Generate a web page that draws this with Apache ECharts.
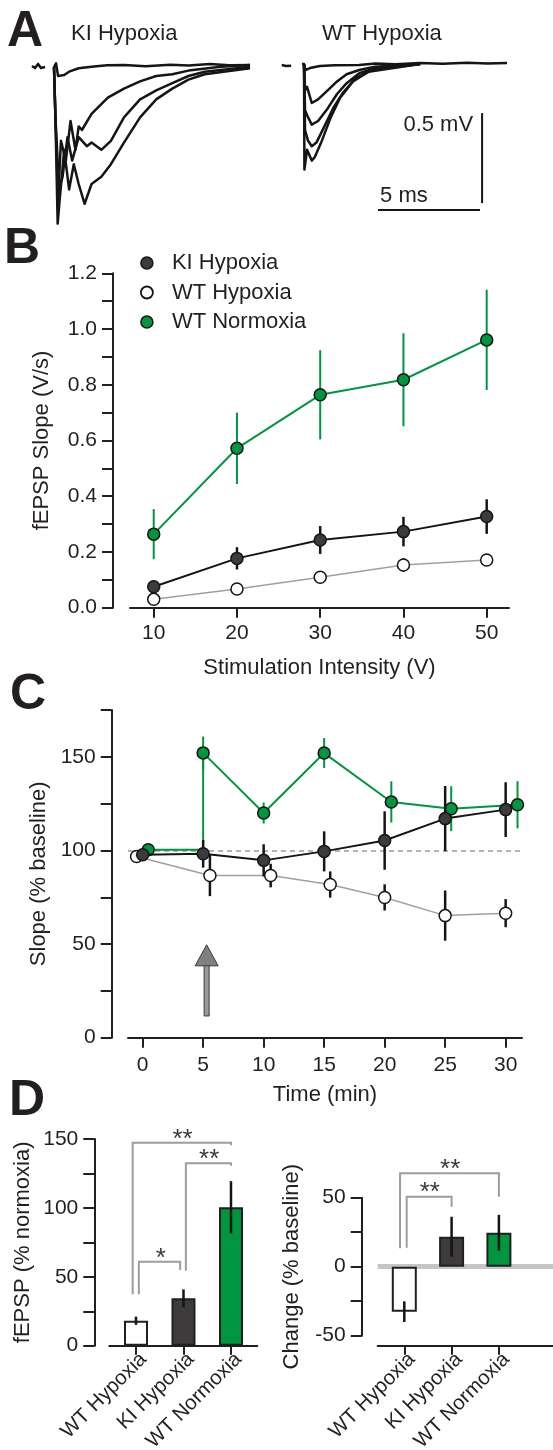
<!DOCTYPE html>
<html><head><meta charset="utf-8">
<script src="https://cdn.jsdelivr.net/npm/echarts@6/dist/echarts.min.js"></script>
<style>html,body{margin:0;padding:0;background:#fff}#c{width:553px;height:1450px}</style>
</head><body><div id="c"></div>
<script>
// ---------- DATA ----------
// Panel A: traces, [time from stimulus (ms), mV]
const aLeftPre = [[-1.08,0.006],[-0.93,-0.006],[-0.78,0.017],[-0.64,-0.006],[-0.44,0]];
const aLeft1 = [[0,0],[0.1,0.02],[0.2,-0.05],[0.29,-0.06],[0.5,-0.045],[0.74,-0.026],[1.21,-0.007],[1.84,0.002],[2.6,0.01],[3.43,0.011],[4.5,0.004],[5.69,0.012],[6.6,0.008],[7.65,0.017],[8.6,0.01],[9.61,0.011]];
const aLeft2 = [[0,0],[0.07,-0.28],[0.2,-0.74],[0.34,-0.41],[0.58,-0.52],[0.81,-0.3],[1.05,-0.46],[1.21,-0.33],[1.37,-0.35],[1.84,-0.26],[2.64,-0.17],[3.43,-0.12],[4.22,-0.08],[5.01,-0.05],[5.8,-0.04],[6.59,-0.02],[8.18,0.002],[9.61,0.011]];
const aLeft3 = [[0,0],[0.07,-0.28],[0.25,-0.68],[0.42,-0.61],[0.66,-0.39],[0.89,-0.52],[1.21,-0.39],[1.61,-0.44],[1.84,-0.42],[2.32,-0.46],[2.79,-0.41],[3.43,-0.28],[4.22,-0.18],[5.01,-0.13],[5.8,-0.09],[6.59,-0.05],[7.39,-0.026],[9.61,0.002]];
const aLeft4 = [[0,0],[0.07,-0.28],[0.18,-0.87],[0.26,-0.76],[0.5,-0.46],[0.74,-0.68],[0.97,-0.54],[1.21,-0.65],[1.5,-0.76],[1.84,-0.65],[2.32,-0.61],[2.79,-0.54],[3.43,-0.42],[4.22,-0.28],[5.01,-0.18],[5.8,-0.12],[6.59,-0.07],[7.39,-0.04],[9.61,-0.007]];
const aRightPre = [[-1.09,0.011],[-0.88,0.006],[-0.63,0.007]];
const aRight1 = [[-0.1,0.017],[0,0.017],[0.07,-0.017],[0.29,-0.006],[0.78,0.006],[1.5,0.01],[2.7,0.011],[3.5,0.02],[4.5,0.015],[5.69,0.022],[6.8,0.018],[8,0.024],[9,0.02],[9.95,0.022]];
const aRight2 = [[0,0.017],[0.05,-0.13],[0.15,-0.11],[0.38,-0.2],[0.69,-0.18],[1.16,-0.13],[1.62,-0.08],[2.09,-0.04],[2.71,-0.017],[3.48,0.002],[5.69,0.017]];
const aRight3 = [[0,0.017],[0.05,-0.24],[0.2,-0.28],[0.38,-0.32],[0.69,-0.3],[1.16,-0.23],[1.62,-0.15],[2.09,-0.09],[2.71,-0.035],[3.48,-0.007],[5.69,0.017]];
const aRight4 = [[0,0.017],[0.05,-0.35],[0.2,-0.41],[0.38,-0.44],[0.61,-0.42],[1.0,-0.33],[1.47,-0.22],[1.93,-0.14],[2.55,-0.06],[3.33,-0.017],[5.69,0.017]];
const aRight5 = [[0,0.017],[0.02,-0.57],[0.15,-0.46],[0.38,-0.52],[0.53,-0.5],[0.84,-0.42],[1.31,-0.28],[1.77,-0.17],[2.4,-0.08],[3.17,-0.026],[5.69,0.017]];
const scaleBarLengths = [5, 0.5]; // ms, mV

// Panel B
const bStim = [10, 20, 30, 40, 50];
const bKI = [0.075, 0.177, 0.243, 0.273, 0.327];
const bKIerr = [0.02, 0.04, 0.05, 0.053, 0.062];
const bWTH = [0.030, 0.067, 0.109, 0.153, 0.171];
const bWTHerr = [0.01, 0.02, 0.02, 0.025, 0.02];
const bWTN = [0.264, 0.572, 0.764, 0.818, 0.961];
const bWTNerr = [0.09, 0.128, 0.16, 0.167, 0.18];

// Panel C
const cTimeTicks = [0, 5, 10, 15, 20, 25, 30];
const cKItime = [0, 5, 10, 15, 20, 25, 30];
const cKI = [97.7, 98.2, 94.7, 99.5, 105.3, 117, 121.8];
const cKIerr = [2, 7.4, 8.6, 10.7, 15.6, 17.4, 14.6];
const cWTHtime = [-0.5, 5.56, 10.58, 15.5, 20, 25, 30];
const cWTH = [96.8, 86.6, 86.6, 81.8, 74.9, 65.2, 66.5];
const cWTHerr = [1.5, 11, 6.3, 7, 7, 13.4, 7.5];
const cWTNtime = [0.46, 5, 5, 10, 15, 20.55, 25.5, 30.98];
const cWTN = [100.4, 100.4, 152.1, 120, 152, 125.9, 122.3, 124.4];
const cWTNerr = [1, 0, 8.7, 5.6, 8, 11, 12, 12.6];
const cWTNmarker = [true, false, true, true, true, true, true, true];
const cBaseline = 100;
const cArrow = [[5.29, 49.6, 11.6]]; // time, tip, tail

// Panel D
const dGroups = ['WT Hypoxia', 'KI Hypoxia', 'WT Normoxia'];
const dNorm = [18.1, 34.4, 100.4];
const dNormErr = [3, 6.5, 19];
const dChange = [-32.6, 21.7, 24.6];
const dChangeErr = [7.5, 14.5, 13];
const dNormComparisons = [
  {from:0.93, to:3.0, top:147.3, legFrom:37.3, legTo:145.5, starX:1.98, starY:154.1, label:'**'},
  {from:2.05, to:3.0, top:132.4, legFrom:54.4, legTo:130.5, starX:2.54, starY:139.1, label:'**'},
  {from:1.06, to:1.93, top:61, legFrom:37.3, legTo:54.9, starX:1.52, starY:67.1, label:'*'}
];
const dChangeComparisons = [
  {from:0.91, to:3.0, top:67.7, legFrom:13.3, legTo:50.7, starX:1.97, starY:74.9, label:'**'},
  {from:1.05, to:2.0, top:50.7, legFrom:13.8, legTo:43.5, starX:1.54, starY:58, label:'**'}
];

// ---------- STYLE ----------
const FONT = '"Liberation Sans", Arial, Helvetica, sans-serif';
const INK = '#231f20';
const GREEN = '#00953f';
const DARK = '#3d3b3c';
const LGREY = '#a0a0a0';
const dColors = ['#ffffff', DARK, GREEN];

const chart = echarts.init(document.getElementById('c'), null, {renderer: 'canvas'});

const axLine = {show: true, onZero: false, lineStyle: {color: INK, width: 2}};
const tickStyle = {color: INK, width: 2};
const lbl = (extra) => Object.assign({color: INK, fontSize: 21, fontFamily: FONT}, extra);
const nameStyle = {color: INK, fontSize: 22, fontFamily: FONT};

function hiddenAxes(gi, xmin, xmax) {
  return {
    x: {gridIndex: gi, type: 'value', min: xmin, max: xmax, show: false},
    y: {gridIndex: gi, type: 'value', min: -1, max: 0.2, show: false}
  };
}
const aL = hiddenAxes(0, -1.5, 10), aR = hiddenAxes(1, -1.5, 12);

const traceSeries = (data, gi) => ({
  type: 'line', xAxisIndex: gi, yAxisIndex: gi, data, symbol: 'none', silent: true,
  lineStyle: {color: '#151515', width: 2.5, join: 'round'}, z: 2, animation: false
});

const errorSeries = (name, gi, data, color, width, z) => ({
  type: 'custom', name, xAxisIndex: gi, yAxisIndex: gi, z, silent: true, data,
  encode: {x: 0, y: 1},
  renderItem: (p, api) => {
    const x = api.value(0), y = api.value(1), e = api.value(2);
    const a = api.coord([x, y - e]), b = api.coord([x, y + e]);
    return {type: 'line', shape: {x1: a[0], y1: a[1], x2: b[0], y2: b[1]},
      style: {stroke: color, lineWidth: width}};
  }
});

const pointSeries = (name, gi, data, lineColor, lineWidth, fill, z) => ({
  type: 'line', name, xAxisIndex: gi, yAxisIndex: gi, data, z,
  symbol: 'circle', symbolSize: 12, showAllSymbol: true,
  lineStyle: {color: lineColor, width: lineWidth},
  itemStyle: {color: fill, borderColor: '#151515', borderWidth: 1.5},
  emphasis: {disabled: true}, silent: true
});

const bracketSeries = (gi, comps) => ({
  type: 'custom', xAxisIndex: gi, yAxisIndex: gi, z: 3, silent: true,
  data: comps.map(c => [c.from, c.to, c.top, c.legFrom, c.legTo, c.starX, c.starY]),
  encode: {x: [0, 1], y: [2]},
  renderItem: (p, api) => {
    const c = comps[p.dataIndex];
    const p1 = api.coord([api.value(0), api.value(3)]);
    const p2 = api.coord([api.value(0), api.value(2)]);
    const p3 = api.coord([api.value(1), api.value(2)]);
    const p4 = api.coord([api.value(1), api.value(4)]);
    const s = api.coord([api.value(5), api.value(6)]);
    return {type: 'group', children: [
      {type: 'polyline', shape: {points: [p1, p2, p3, p4]}, style: {stroke: '#9d9d9d', lineWidth: 2, fill: null}},
      {type: 'text', style: {text: c.label, x: s[0], y: s[1] + 6, align: 'center', verticalAlign: 'middle',
        fontSize: 26, fontFamily: FONT, fill: '#3a3a3a'}}
    ]};
  }
});

const catAxis = (gi, min, max, offset) => ({
  gridIndex: gi, type: 'value', min, max, offset,
  axisLine: axLine,
  axisTick: {show: true, length: 9, lineStyle: tickStyle, customValues: [1, 2, 3]},
  axisLabel: lbl({customValues: [1, 2, 3], rotate: 45, margin: 3, fontSize: 20.5,
    align: 'right', verticalAlign: 'top',
    formatter: v => dGroups[Math.round(v) - 1]}),
  splitLine: {show: false}
});

const letter = (t, x, y) => ({type: 'text', x, y, style: {text: t, fontSize: 50, fontWeight: 'bold',
  fontFamily: FONT, fill: INK, verticalAlign: 'middle'}});

const option = {
  animation: false,
  backgroundColor: '#ffffff',
  textStyle: {fontFamily: FONT},
  grid: [
    {left: 23.4, top: 31, width: 234.6, height: 216, outerBoundsMode: 'none'},
    {left: 273.4, top: 31, width: 275.4, height: 216, outerBoundsMode: 'none'},
    {left: 130, top: 273.3, width: 379, height: 334.4, outerBoundsMode: 'none'},
    {left: 128, top: 710, width: 394, height: 327.7, outerBoundsMode: 'none'},
    {left: 109.3, top: 1139, width: 148, height: 206.7, outerBoundsMode: 'none'},
    {left: 377.7, top: 1197.7, width: 175.3, height: 138, outerBoundsMode: 'none'}
  ],
  xAxis: [
    aL.x, aR.x,
    {gridIndex: 2, type: 'value', min: 7.15, max: 52.68, axisLine: axLine,
      axisTick: {show: true, length: 10, lineStyle: tickStyle, customValues: bStim},
      axisLabel: lbl({customValues: bStim, margin: 15}), splitLine: {show: false},
      name: 'Stimulation Intensity (V)', nameLocation: 'middle', nameGap: 49, nameTextStyle: nameStyle},
    {gridIndex: 3, type: 'value', min: -1.21, max: 31.35, axisLine: axLine,
      axisTick: {show: true, length: 10, lineStyle: tickStyle, customValues: cTimeTicks},
      axisLabel: lbl({customValues: cTimeTicks, margin: 17}), splitLine: {show: false},
      name: 'Time (min)', nameLocation: 'middle', nameGap: 46, nameTextStyle: nameStyle},
    catAxis(4, 0.438, 3.554, 0),
    catAxis(5, 0.4376, 4.144, 10)
  ],
  yAxis: [
    aL.y, aR.y,
    {gridIndex: 2, type: 'value', min: 0, max: 1.2, interval: 0.1, offset: 17, axisLine: axLine,
      axisTick: {show: true, length: 11, lineStyle: tickStyle},
      axisLabel: lbl({margin: 16, formatter: v => (Math.round(v * 10) % 2 === 0 ? v.toFixed(1) : '')}),
      splitLine: {show: false},
      name: 'fEPSP Slope (V/s)', nameLocation: 'middle', nameRotate: 90, nameGap: 60, nameTextStyle: nameStyle},
    {gridIndex: 3, type: 'value', min: 0, max: 175, interval: 25, offset: 16.3, axisLine: axLine,
      axisTick: {show: true, length: 11, lineStyle: tickStyle},
      axisLabel: lbl({margin: 16, formatter: v => (v % 50 === 0 ? String(v) : '')}),
      splitLine: {show: false},
      name: 'Slope (% baseline)', nameLocation: 'middle', nameRotate: 90, nameGap: 59, nameTextStyle: nameStyle},
    {gridIndex: 4, type: 'value', min: 0, max: 150, interval: 25, offset: 15, axisLine: axLine,
      axisTick: {show: true, length: 11, lineStyle: tickStyle},
      axisLabel: lbl({margin: 16, formatter: v => (v % 50 === 0 ? String(v) : '')}),
      splitLine: {show: false},
      name: 'fEPSP (% normoxia)', nameLocation: 'middle', nameRotate: 90, nameGap: 60, nameTextStyle: nameStyle},
    {gridIndex: 5, type: 'value', min: -50, max: 50, interval: 25, offset: 16, axisLine: axLine,
      axisTick: {show: true, length: 11, lineStyle: tickStyle},
      axisLabel: lbl({margin: 16, formatter: v => (v % 50 === 0 ? String(v) : '')}),
      splitLine: {show: false},
      name: 'Change (% baseline)', nameLocation: 'middle', nameRotate: 90, nameGap: 59, nameTextStyle: nameStyle}
  ],
  legend: {
    left: 135, top: 247, orient: 'vertical', itemWidth: 40, itemHeight: 12, itemGap: 7.5,
    icon: 'circle', selectedMode: false,
    textStyle: {fontFamily: FONT, fontSize: 22, color: INK, lineHeight: 22},
    data: [
      {name: 'KI Hypoxia', itemStyle: {color: DARK, borderColor: '#151515', borderWidth: 1.5}},
      {name: 'WT Hypoxia', itemStyle: {color: '#ffffff', borderColor: '#151515', borderWidth: 1.8}},
      {name: 'WT Normoxia', itemStyle: {color: GREEN, borderColor: '#151515', borderWidth: 1.5}}
    ]
  },
  graphic: [
    letter('A', 7, 32),
    letter('B', 4, 249),
    letter('C', 10, 695),
    letter('D', 9, 1101),
    {type: 'text', x: 71, y: 34, style: {text: 'KI Hypoxia', fontSize: 22, fontFamily: FONT, fill: INK, verticalAlign: 'middle'}},
    {type: 'text', x: 322, y: 34, style: {text: 'WT Hypoxia', fontSize: 22, fontFamily: FONT, fill: INK, verticalAlign: 'middle'}}
  ],
  series: [
    // Panel A
    traceSeries(aLeftPre, 0), traceSeries(aLeft1, 0), traceSeries(aLeft2, 0),
    traceSeries(aLeft3, 0), traceSeries(aLeft4, 0),
    traceSeries(aRightPre, 1), traceSeries(aRight1, 1), traceSeries(aRight2, 1),
    traceSeries(aRight3, 1), traceSeries(aRight4, 1), traceSeries(aRight5, 1),
    {type: 'custom', xAxisIndex: 1, yAxisIndex: 1, silent: true, z: 3,
      data: [[3.63, -0.794]], encode: {x: 0, y: 1},
      renderItem: (p, api) => {
        const [ms, mv] = scaleBarLengths;
        const hx = api.value(0), hy = api.value(1);
        const vx = 8.73, vy = -0.256;
        const h0 = api.coord([hx, hy]), h1 = api.coord([hx + ms, hy]);
        const v0 = api.coord([vx, vy]), v1 = api.coord([vx, vy - mv]);
        const st = {stroke: '#151515', lineWidth: 2};
        return {type: 'group', children: [
          {type: 'line', shape: {x1: h0[0], y1: h0[1], x2: h1[0], y2: h1[1]}, style: st},
          {type: 'line', shape: {x1: v0[0], y1: v0[1], x2: v1[0], y2: v1[1]}, style: st},
          {type: 'text', style: {text: mv + ' mV', x: v0[0] - 9, y: v0[1] + 12, align: 'right', verticalAlign: 'middle', fontSize: 22, fontFamily: FONT, fill: INK}},
          {type: 'text', style: {text: ms + ' ms', x: h0[0] + 2, y: h0[1] - 14, align: 'left', verticalAlign: 'middle', fontSize: 22, fontFamily: FONT, fill: INK}}
        ]};
      }},
    // Panel B
    errorSeries('errWTH_B', 2, bStim.map((x, i) => [x, bWTH[i], bWTHerr[i]]), '#151515', 2, 2),
    pointSeries('WT Hypoxia', 2, bStim.map((x, i) => [x, bWTH[i]]), LGREY, 1.5, '#ffffff', 3),
    errorSeries('errKI_B', 2, bStim.map((x, i) => [x, bKI[i], bKIerr[i]]), '#151515', 2.5, 4),
    pointSeries('KI Hypoxia', 2, bStim.map((x, i) => [x, bKI[i]]), '#151515', 2, DARK, 5),
    errorSeries('errWTN_B', 2, bStim.map((x, i) => [x, bWTN[i], bWTNerr[i]]), GREEN, 2, 6),
    pointSeries('WT Normoxia', 2, bStim.map((x, i) => [x, bWTN[i]]), GREEN, 2, GREEN, 7),
    // Panel C
    errorSeries('errWTH_C', 3, cWTHtime.map((x, i) => [x, cWTH[i], cWTHerr[i]]), '#151515', 2.5, 2),
    Object.assign(pointSeries('WT Hypoxia C', 3, cWTHtime.map((x, i) => [x, cWTH[i]]), LGREY, 1.5, '#ffffff', 3), {
      markLine: {silent: true, symbol: 'none', z: 1, label: {show: false},
        lineStyle: {color: '#9b9b9b', width: 1.5, type: [5, 4]}, data: [{yAxis: cBaseline}]}
    }),
    errorSeries('errWTN_C', 3, cWTNtime.map((x, i) => [x, cWTN[i], cWTNerr[i]]), GREEN, 2, 4),
    pointSeries('WT Normoxia C', 3, cWTNtime.map((x, i) => cWTNmarker[i] ? [x, cWTN[i]] : {value: [x, cWTN[i]], symbol: 'none'}), GREEN, 2, GREEN, 5),
    errorSeries('errKI_C', 3, cKItime.map((x, i) => [x, cKI[i], cKIerr[i]]), '#151515', 2.5, 6),
    pointSeries('KI Hypoxia C', 3, cKItime.map((x, i) => [x, cKI[i]]), '#151515', 2, DARK, 7),
    {type: 'custom', xAxisIndex: 3, yAxisIndex: 3, silent: true, z: 8, data: cArrow, encode: {x: 0, y: [1, 2]},
      renderItem: (p, api) => {
        const tip = api.coord([api.value(0), api.value(1)]);
        const tail = api.coord([api.value(0), api.value(2)]);
        const hw = 11.5, hh = 21;
        return {type: 'group', children: [
          {type: 'rect', shape: {x: tip[0] - 2.5, y: tip[1] + hh - 1, width: 5, height: tail[1] - tip[1] - hh + 1},
            style: {fill: '#9a9a9a', stroke: '#3a3a3a', lineWidth: 1}},
          {type: 'polygon', shape: {points: [[tip[0], tip[1]], [tip[0] - hw, tip[1] + hh], [tip[0] + hw, tip[1] + hh]]},
            style: {fill: '#808080', stroke: '#3a3a3a', lineWidth: 1}}
        ]};
      }},
    // Panel D left
    {type: 'bar', xAxisIndex: 4, yAxisIndex: 4, barWidth: 24, z: 2, silent: true,
      data: dGroups.map((g, i) => ({value: [i + 1, dNorm[i]], itemStyle: {color: dColors[i]}})),
      itemStyle: {borderColor: INK, borderWidth: 2}},
    errorSeries('errNorm', 4, dGroups.map((g, i) => [i + 1, dNorm[i], dNormErr[i]]), '#151515', 2.5, 4),
    bracketSeries(4, dNormComparisons),
    // Panel D right
    {type: 'bar', xAxisIndex: 5, yAxisIndex: 5, barWidth: 25, z: 2, silent: true,
      data: dGroups.map((g, i) => ({value: [i + 1, dChange[i]], itemStyle: {color: dColors[i]}})),
      itemStyle: {borderColor: INK, borderWidth: 2},
      markLine: {silent: true, symbol: 'none', z: 1, label: {show: false},
        lineStyle: {color: '#c6c6c6', width: 5, type: 'solid'}, data: [{yAxis: 0}]}},
    errorSeries('errChange', 5, dGroups.map((g, i) => [i + 1, dChange[i], dChangeErr[i]]), '#151515', 2.5, 4),
    bracketSeries(5, dChangeComparisons)
  ]
};
chart.setOption(option);
</script></body></html>
